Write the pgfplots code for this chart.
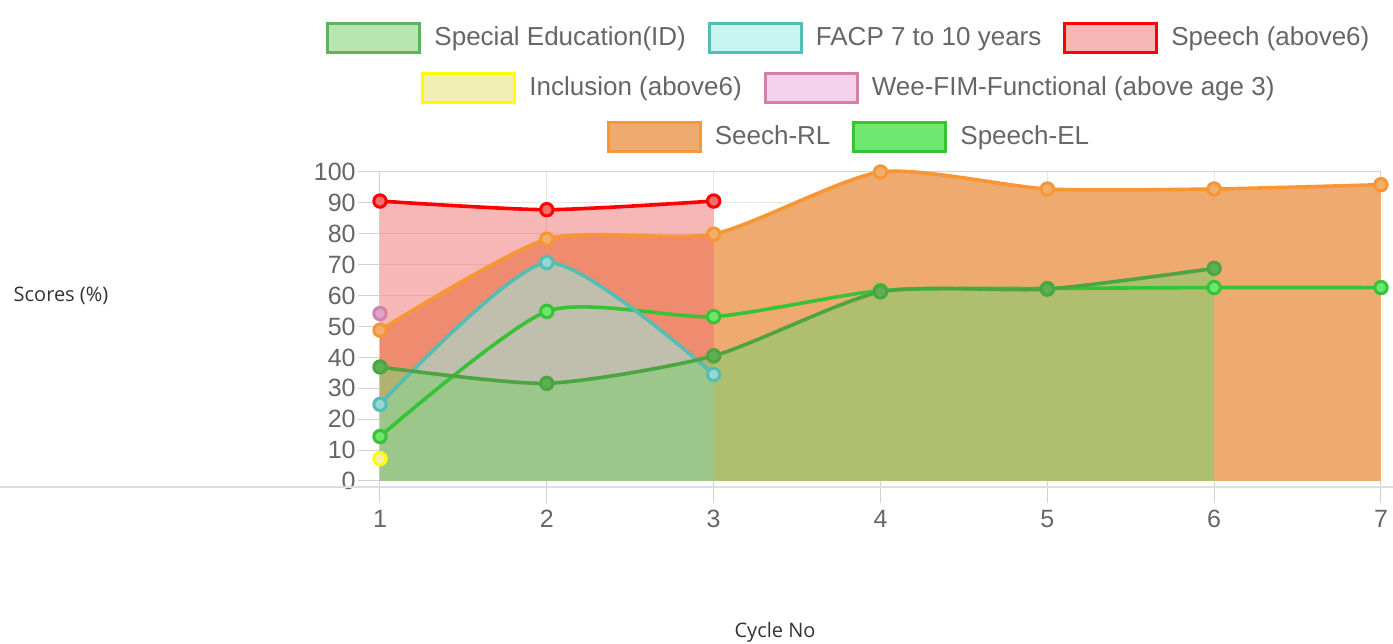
\documentclass[border=0pt]{standalone}
\usepackage{fontspec}
\setmainfont{Liberation Sans}
\newfontfamily\osans{Open Sans}
\usepackage{pgfplots}
\pgfplotsset{compat=1.18}
\usepgfplotslibrary{fillbetween}

\definecolor{tickgray}{RGB}{102,102,102}
\definecolor{gridc}{RGB}{230,230,230}
\definecolor{axc}{RGB}{210,210,210}
\definecolor{longc}{RGB}{222,222,222}
\definecolor{seLine}{RGB}{75,165,65}
\definecolor{seMark}{RGB}{95,175,85}
\definecolor{seFill}{RGB}{126,210,111}
\definecolor{seLeg}{RGB}{184,230,176}
\definecolor{seLegB}{RGB}{95,178,95}
\definecolor{faLine}{RGB}{85,190,180}
\definecolor{faMark}{RGB}{150,215,210}
\definecolor{faFill}{RGB}{151,236,227}
\definecolor{faLeg}{RGB}{200,245,240}
\definecolor{spLine}{RGB}{255,0,0}
\definecolor{spMark}{RGB}{245,110,110}
\definecolor{spFill}{RGB}{239,111,111}
\definecolor{spLeg}{RGB}{247,183,183}
\definecolor{inLine}{RGB}{255,255,0}
\definecolor{inMark}{RGB}{240,240,170}
\definecolor{inLeg}{RGB}{240,240,180}
\definecolor{weLine}{RGB}{210,130,170}
\definecolor{weMark}{RGB}{222,165,198}
\definecolor{weLeg}{RGB}{245,210,235}
\definecolor{rlLine}{RGB}{247,150,50}
\definecolor{rlMark}{RGB}{240,175,110}
\definecolor{rlFill}{RGB}{239,170,112}
\definecolor{elLine}{RGB}{55,195,55}
\definecolor{elMark}{RGB}{110,230,110}
\definecolor{elLeg}{RGB}{110,232,110}

\pgfplotsset{
  chartjs/.style={scale only axis, width=500.5pt, height=154.5pt,
    xmin=1, xmax=7, ymin=0, ymax=100, at={(0pt,0pt)}, anchor=south west},
  leg/.style={legend columns=-1, legend style={draw=none, fill=none,
      at={(axis description cs:0.4675,#1)}, anchor=center,
      font=\fontsize{13}{15}\selectfont, text=tickgray,
      /tikz/every odd column/.append style={column sep=6.5pt},
      /tikz/every even column/.append style={column sep=11pt},
      nodes={inner sep=0pt}},
    legend image code/.code={\draw[##1] (0pt,-7.25pt) rectangle (46pt,7.25pt);}},
  ser/.style n args={2}{line width=1.8pt, smooth, tension=0.4, color=#1,
    mark=*, mark size=3.1pt, mark options={fill=#2, draw=#1, line width=1.5pt}, forget plot},
}

\begin{document}
\begin{tikzpicture}
\begin{axis}[chartjs, leg=1.4337,
  grid=major, grid style={gridc, line width=0.5pt},
  axis line style={axc, line width=0.5pt},
  xtick={1,2,...,7}, ytick={0,10,...,100},
  tick pos=left, tick align=outside, major tick length=11pt,
  tick style={axc, line width=0.5pt},
  ticklabel style={font=\fontsize{12.5}{14}\selectfont, text=tickgray},
  /pgf/number format/assume math mode=true,
  yticklabel style={inner sep=1pt},
  xticklabel style={inner sep=1pt, yshift=-2.5pt},
  clip=false,
  xlabel={Cycle No}, ylabel={Scores (\%)},
  xlabel style={at={(axis description cs:0.3946,-0.489)}, anchor=center,
    font=\osans\fontsize{10}{12}\selectfont, text=black!80},
  ylabel style={at={(axis description cs:-0.3187,0.599)}, anchor=center, rotate=-90,
    font=\osans\fontsize{10}{12}\selectfont, text=black!80},
]
\draw[longc, line width=1pt] (axis description cs:-0.3796,-0.0194) -- (axis description cs:1.012,-0.0194);

% named paths (invisible)
\addplot[name path=se, draw=none, smooth, tension=0.4, forget plot] coordinates {(1,36.9)(2,31.6)(3,40.5)(4,61.2)(5,62.1)(6,68.8)};
\addplot[name path=fa, draw=none, smooth, tension=0.4, forget plot] coordinates {(1,24.8)(2,70.7)(3,34.5)};
\addplot[name path=sp, draw=none, smooth, tension=0.4, forget plot] coordinates {(1,90.6)(2,87.8)(3,90.6)};
\addplot[name path=rl, draw=none, smooth, tension=0.4, forget plot] coordinates {(1,48.8)(2,78.3)(3,79.9)(4,100)(5,94.5)(6,94.5)(7,95.9)};
\addplot[name path=b13, draw=none, forget plot] coordinates {(1,0)(3,0)};
\addplot[name path=b16, draw=none, forget plot] coordinates {(1,0)(6,0)};
\addplot[name path=b17, draw=none, forget plot] coordinates {(1,0)(7,0)};

% fills
\addplot[rlFill, draw=none, forget plot] fill between[of=rl and b17];
\addplot[spFill, fill opacity=0.5, draw=none, forget plot] fill between[of=sp and b13];
\addplot[faFill, fill opacity=0.53, draw=none, forget plot] fill between[of=fa and b13];
\addplot[seFill, fill opacity=0.55, draw=none, forget plot] fill between[of=se and b16];

% lines (last dataset first)
\addplot[ser={elLine}{elMark}] coordinates {(1,14.4)(2,54.9)(3,53.2)(4,61.6)(5,62.3)(6,62.6)(7,62.6)};
\addplot[ser={rlLine}{rlMark}] coordinates {(1,48.8)(2,78.3)(3,79.9)(4,100)(5,94.5)(6,94.5)(7,95.9)};
\addplot[ser={weLine}{weMark}] coordinates {(1,54.2)};
\addplot[ser={inLine}{inMark}] coordinates {(1,7.2)};
\addplot[ser={spLine}{spMark}] coordinates {(1,90.6)(2,87.8)(3,90.6)};
\addplot[ser={faLine}{faMark}] coordinates {(1,24.8)(2,70.7)(3,34.5)};
\addplot[ser={seLine}{seMark}] coordinates {(1,36.9)(2,31.6)(3,40.5)(4,61.2)(5,62.1)(6,68.8)};

\addlegendimage{fill=seLeg, draw=seLegB, line width=1.5pt}
\addlegendentry{Special Education(ID)}
\addlegendimage{fill=faLeg, draw=faLine, line width=1.5pt}
\addlegendentry{FACP 7 to 10 years}
\addlegendimage{fill=spLeg, draw=spLine, line width=1.5pt}
\addlegendentry{Speech (above6)}
\end{axis}

\begin{axis}[chartjs, hide axis, leg=1.2718]
\addplot[draw=none, forget plot] coordinates {(1,0)(7,100)};
\addlegendimage{fill=inLeg, draw=inLine, line width=1.5pt}
\addlegendentry{Inclusion (above6)}
\addlegendimage{fill=weLeg, draw=weLine, line width=1.5pt}
\addlegendentry{Wee-FIM-Functional (above age 3)}
\end{axis}

\begin{axis}[chartjs, hide axis, leg=1.1133]
\addplot[draw=none, forget plot] coordinates {(1,0)(7,100)};
\addlegendimage{fill=rlFill, draw=rlLine, line width=1.5pt}
\addlegendentry{Seech-RL}
\addlegendimage{fill=elLeg, draw=elLine, line width=1.5pt}
\addlegendentry{Speech-EL}
\end{axis}
\pgfresetboundingbox
\useasboundingbox (-190pt,-81pt) rectangle (506.5pt,240.5pt);
\end{tikzpicture}
\end{document}
